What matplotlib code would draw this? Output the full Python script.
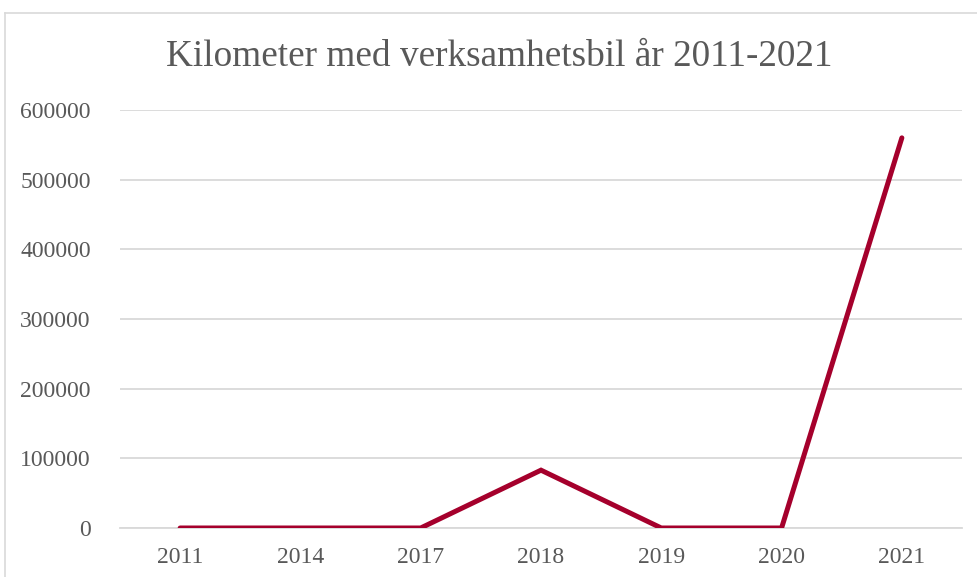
import matplotlib
matplotlib.use("Agg")
import matplotlib.pyplot as plt
from matplotlib.lines import Line2D

years = ["2011", "2014", "2017", "2018", "2019", "2020", "2021"]
km = [0, 0, 0, 83000, 0, 0, 560000]
yticks = [0, 100000, 200000, 300000, 400000, 500000, 600000]
title = "Kilometer med verksamhetsbil år 2011-2021"

plt.rcParams['font.family'] = ['Liberation Serif', 'DejaVu Serif']

W, H = 977, 577
fig = plt.figure(figsize=(W / 100, H / 100), dpi=100)
ax = fig.add_axes([120 / W, 1 - 528 / H, (962 - 120) / W, (528 - 110) / H])

x = list(range(len(years)))
ax.plot(x, km, color='#A5002C', linewidth=3.6, solid_capstyle='round', solid_joinstyle='miter', zorder=3)

ax.set_xlim(-0.5, len(years) - 0.5)
ax.set_ylim(0, 600000)
ax.set_yticks(yticks)
ax.set_yticklabels([str(v) for v in yticks])
ax.set_xticks(x)
ax.set_xticklabels(years)
ax.grid(axis='y', color='#D9D9D9', linewidth=1.3)
ax.set_axisbelow(True)
for s in ['top', 'right', 'left']:
    ax.spines[s].set_visible(False)
ax.spines['bottom'].set_color('#D9D9D9')
ax.spines['bottom'].set_linewidth(1.3)
ax.tick_params(axis='both', length=0, labelsize=17, colors='#595959')
ax.tick_params(axis='y', pad=21)
ax.tick_params(axis='x', pad=14)

fig.text(0.5 * (167 + 832) / W, 1 - 57 / H, title, ha='center', va='center', fontsize=26.8, color='#595959')

# chart border
fig.add_artist(Line2D([5 / W, 5 / W], [0, 1 - 13 / H], color='#D9D9D9', linewidth=1.2, transform=fig.transFigure))
fig.add_artist(Line2D([5 / W, 1], [1 - 13 / H, 1 - 13 / H], color='#D9D9D9', linewidth=1.2, transform=fig.transFigure))

fig.savefig("out.png", dpi=100, facecolor='white')
